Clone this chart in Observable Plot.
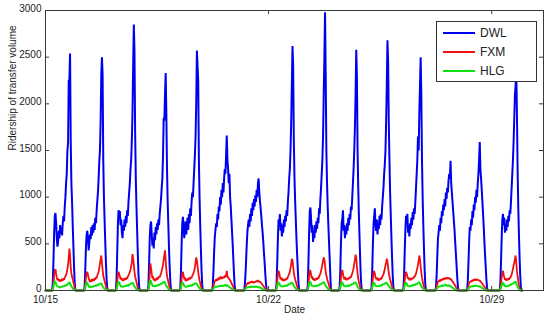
<!DOCTYPE html>
<html>
<head>
<meta charset="utf-8">
<script src="https://cdn.jsdelivr.net/npm/d3@7"></script>
<script src="https://cdn.jsdelivr.net/npm/@observablehq/plot@0.6"></script>
<style>
  body { margin: 0; background: #fff; }
  #wrap { position: relative; width: 550px; height: 322px; }
  #legend { position: absolute; left: 436px; top: 21px; width: 99px; height: 59px; border: 1px solid #333; background: #fff;
    font-family: "Liberation Sans Narrow", "Arial Narrow", "Liberation Sans", Arial, sans-serif; font-size: 12px; color: #222; }
  .row { position: absolute; left: 0; height: 16px; width: 100%; }
  .row span.l { position: absolute; left: 6px; top: 7px; width: 32px; height: 0; border-top: 2px solid; }
  .row span.t { position: absolute; left: 43px; top: 0; line-height: 16px; }
</style>
</head>
<body>
<div id="wrap">
  <div id="chart"></div>
  <div id="legend"></div>
</div>
<script>
// Series names / colours
const seriesNames = ["DWL", "FXM", "HLG"];
const seriesColors = ["#0000f0", "#f01010", "#10e010"];

// Day labels (Oct 2012), one per column of values below
const dayLabels = ["10/15","10/16","10/17","10/18","10/19","10/20","10/21","10/22","10/23","10/24","10/25","10/26","10/27","10/28","10/29"];

// Half-hour time slots within each day (hours)
const slotHours = [5,5.5,6,6.5,7,7.5,8,8.5,9,9.5,10,10.5,11,11.5,12,12.5,13,13.5,14,14.5,15,15.5,16,16.5,17,17.5,18,18.5,19,19.5,20,20.5,21,21.5,22,22.5,23];

// Axis ticks
const yTicks = [0, 500, 1000, 1500, 2000, 2500, 3000];
const xTickLabels = ["10/15", "10/22", "10/29"];

// DWL ridership, one row per day
const dwl = [
  [0,80,320,610,800,830,720,560,470,520,640,560,700,610,680,590,720,800,740,900,1000,1150,1250,1500,1580,2250,2260,2540,1600,1150,950,700,480,250,80,0,0],
  [0,50,250,480,600,640,560,430,520,600,550,680,590,700,620,720,650,780,720,850,960,1050,1200,1380,1500,1800,2300,2500,2320,1400,1000,750,520,300,120,20,0],
  [0,120,400,700,860,820,850,700,760,620,560,700,640,760,680,800,720,860,800,950,1050,1150,1300,1400,1600,1900,2400,2850,2570,1700,1200,900,650,400,180,40,0],
  [0,60,280,560,700,740,600,480,560,450,620,540,680,600,720,650,760,700,820,900,980,1100,1200,1450,1850,1820,2100,2330,1900,1300,950,700,450,250,90,10,0],
  [0,30,200,500,720,790,680,560,650,740,600,700,780,650,820,720,880,800,950,1050,1000,1150,1300,1450,1650,2000,2570,2400,2250,1400,1000,700,450,220,60,0,0],
  [0,0,60,220,420,580,650,720,680,820,760,900,850,1000,920,1080,1000,1150,1050,1200,1300,1250,1450,1660,1400,1300,1150,1250,1000,900,760,620,480,320,160,40,0],
  [0,0,40,150,300,480,620,700,760,680,820,740,880,800,940,860,980,900,1020,950,1080,1000,1150,1200,1050,960,880,800,700,620,520,400,300,180,80,10,0],
  [0,0,80,300,560,760,700,820,640,720,580,700,620,760,680,800,740,860,800,950,1050,1200,1300,1500,1800,2200,2620,2400,1600,1200,950,750,550,380,220,80,0],
  [0,60,300,620,850,890,760,620,700,520,640,560,700,620,740,660,780,720,880,820,980,1100,1250,1400,1650,2100,2500,2980,2300,1500,1150,900,700,520,340,150,0],
  [0,40,220,520,720,770,860,640,700,560,680,600,720,640,780,700,820,760,900,860,1000,1150,1300,1500,1750,2100,2580,2300,1500,1100,800,560,320,120,20,0,0],
  [0,30,200,480,700,800,880,700,640,760,600,720,660,800,700,820,760,900,1000,1100,1250,1350,1500,1800,2200,2680,2450,1800,1400,1050,800,560,340,150,30,0,0],
  [0,20,150,420,650,800,760,820,620,700,580,720,660,780,700,840,760,880,820,950,1100,1250,1400,1650,1500,1900,2200,2500,2100,1400,1000,700,450,220,60,0,0],
  [0,0,30,150,350,550,620,700,640,780,720,850,800,920,860,980,900,1050,980,1100,1050,1180,1250,1200,1390,1150,1050,950,850,750,650,520,400,280,150,50,0],
  [0,10,100,300,520,680,640,760,700,850,780,920,860,1000,940,1080,1000,1150,1250,1400,1590,1300,1200,1080,950,820,680,520,380,250,120,30,0,0,0,0,0],
  [0,0,0,80,300,560,760,820,700,780,620,700,640,760,680,800,740,860,820,950,1100,1250,1400,1600,1850,2100,2200,2350,1900,1300,900,600,350,150,30,0,0]
];

// FXM ridership, one row per day
const fxm = [
  [0,20,80,160,210,230,180,140,110,130,100,120,95,115,100,125,105,130,115,140,150,170,190,230,280,350,450,380,250,180,150,120,90,60,25,5,0],
  [0,15,60,140,190,200,170,130,110,90,115,95,120,100,125,105,130,115,145,130,160,180,200,240,290,330,375,300,220,160,130,100,75,45,20,0,0],
  [0,20,90,170,200,180,150,120,140,110,125,100,130,110,135,115,140,125,150,160,180,200,220,260,300,390,340,280,200,150,120,90,60,30,10,0,0],
  [0,10,70,180,290,240,180,130,150,110,125,100,130,110,140,120,135,150,140,165,180,210,240,280,330,380,430,320,220,160,120,90,60,30,10,0,0],
  [0,10,50,130,180,200,160,120,140,100,120,105,130,110,125,140,120,145,135,155,170,190,210,250,300,355,320,260,200,150,110,80,50,25,5,0,0],
  [0,0,20,50,80,100,110,120,100,130,110,140,120,135,150,125,140,130,150,135,160,140,170,210,150,140,130,120,110,95,80,65,50,35,15,5,0],
  [0,0,10,30,50,65,75,85,70,90,80,95,85,100,90,80,95,85,100,90,105,95,110,100,90,95,85,80,70,60,50,40,30,20,10,0,0],
  [0,0,30,100,170,210,190,150,120,140,110,130,100,120,105,125,110,135,120,145,160,180,200,240,280,340,320,260,190,150,120,95,70,45,20,5,0],
  [0,10,70,160,220,210,170,130,150,115,130,105,125,110,135,115,140,125,150,165,180,210,240,280,320,355,330,270,200,160,130,100,80,55,30,10,0],
  [0,10,50,140,200,220,180,140,120,145,115,130,110,135,120,140,125,150,140,165,185,210,240,290,330,385,350,260,180,130,90,60,35,15,5,0,0],
  [0,10,50,130,190,210,180,140,120,140,110,130,105,125,115,135,120,145,160,175,200,230,270,300,340,310,250,190,150,120,90,65,40,20,5,0,0],
  [0,5,40,110,170,200,180,150,125,140,110,130,110,135,120,140,130,150,145,165,180,210,240,280,320,375,330,260,190,140,100,70,40,20,5,0,0],
  [0,0,10,40,70,90,100,110,95,120,105,125,110,130,115,135,120,140,125,130,140,125,135,120,130,115,105,95,85,75,65,50,40,25,10,0,0],
  [0,0,20,50,80,95,90,105,95,115,100,120,105,125,110,115,120,110,115,105,110,95,90,80,70,60,50,40,30,20,10,0,0,0,0,0,0],
  [0,0,0,20,70,140,190,210,170,140,115,130,105,125,110,130,115,140,130,155,170,200,230,270,300,340,375,300,210,150,100,60,30,10,0,0,0]
];

// HLG ridership, one row per day
const hlg = [
  [0,10,40,80,100,90,70,50,40,45,35,40,30,40,35,45,40,50,45,55,50,60,55,65,75,80,90,70,55,45,35,25,15,10,5,0,0],
  [0,10,35,70,90,80,60,45,35,45,30,40,35,45,40,50,45,55,50,55,60,55,65,70,75,70,80,60,45,35,25,20,15,10,5,0,0],
  [0,15,45,85,95,85,65,50,40,50,35,45,40,50,45,55,45,60,50,55,65,60,70,75,80,85,75,60,45,35,25,15,10,5,0,0,0],
  [0,10,40,90,110,95,70,55,45,55,40,50,45,55,50,60,55,65,60,70,75,70,80,85,90,95,85,65,50,40,30,20,10,5,0,0,0],
  [0,5,30,70,85,80,65,50,40,45,35,45,40,50,45,55,50,55,50,60,65,60,70,75,80,75,70,55,45,35,25,15,10,5,0,0,0],
  [0,0,10,20,30,35,40,45,35,45,40,50,45,50,45,55,50,45,55,50,60,55,50,60,50,45,40,35,30,25,20,15,10,5,0,0,0],
  [0,0,5,15,25,30,35,30,40,35,40,35,45,40,35,45,40,35,40,45,40,35,40,35,30,35,30,25,20,15,10,10,5,0,0,0,0],
  [0,0,15,50,80,90,75,60,45,50,40,45,40,50,45,55,50,55,50,60,65,70,65,75,80,85,80,65,50,40,30,20,15,10,5,0,0],
  [0,5,30,75,95,90,70,55,45,50,40,50,45,55,45,55,50,60,55,65,70,65,75,80,85,90,80,65,50,40,30,25,15,10,5,0,0],
  [0,5,25,65,90,85,70,55,45,50,40,50,45,55,50,55,50,60,55,65,70,65,75,85,80,90,75,55,40,30,20,10,5,0,0,0,0],
  [0,5,25,60,85,80,65,50,45,50,40,50,45,55,50,55,50,60,65,70,65,75,80,85,80,70,60,50,40,30,20,15,10,5,0,0,0],
  [0,0,20,55,80,85,70,55,45,50,40,50,45,55,50,60,55,60,55,65,70,65,75,80,85,90,75,60,45,35,25,15,10,5,0,0,0],
  [0,0,5,15,25,35,40,45,40,50,45,55,50,55,50,60,55,60,55,50,55,50,55,50,45,40,35,30,25,20,15,10,5,0,0,0,0],
  [0,0,10,20,30,35,40,45,40,50,45,50,45,55,50,50,45,50,45,40,45,40,35,30,25,20,15,10,5,0,0,0,0,0,0,0,0],
  [0,0,0,10,30,55,80,85,70,55,45,50,40,50,45,55,50,60,55,65,70,75,70,80,85,90,95,75,55,40,25,15,5,0,0,0,0]
];

// ---- build table ----
function parseDay(lbl, hour) {
  const [m, d] = lbl.split("/").map(Number);
  return new Date(Date.UTC(2012, m - 1, d) + hour * 3600000);
}
function toRows(values, name) {
  const rows = [{date: parseDay(dayLabels[0], 0), value: 0, series: name}];
  values.forEach((day, di) => day.forEach((v, si) => rows.push({date: parseDay(dayLabels[di], slotHours[si]), value: v, series: name})));
  return rows;
}
const allSeries = [dwl, fxm, hlg].map((v, i) => toRows(v, seriesNames[i]));
const xTicks = xTickLabels.map(l => parseDay(l, 0));

const W = 550, H = 322, mL = 45, mR = 7, mT = 10, mB = 32;
const innerW = W - mL - mR, innerH = H - mT - mB;
const tickLen = 4;
const axisColor = "#3a3a3a";
const widths = [2, 1.8, 2];
const narrow = "'Liberation Sans Narrow', 'Arial Narrow', 'Liberation Sans', sans-serif";

const chart = Plot.plot({
  width: W, height: H,
  marginLeft: mL, marginRight: mR, marginTop: mT, marginBottom: mB,
  x: {type: "utc", domain: [parseDay("10/15", 0), parseDay("10/30", 15)]},
  y: {domain: [0, 3000]},
  style: {fontFamily: "'Liberation Sans', Arial, sans-serif", fontSize: "10px", color: "#222", background: "#fff"},
  marks: [
    ...allSeries.map((rows, i) => Plot.lineY(rows, {x: "date", y: "value", stroke: seriesColors[i], strokeWidth: widths[i], strokeLinejoin: "miter"})),
    Plot.frame({stroke: axisColor}),
    Plot.tickY(yTicks, {y: d => d, insetRight: innerW - tickLen, stroke: axisColor}),
    Plot.tickY(yTicks, {y: d => d, insetLeft: innerW - tickLen, stroke: axisColor}),
    Plot.tickX(xTicks, {x: d => d, insetTop: innerH - tickLen, stroke: axisColor}),
    Plot.tickX(xTicks, {x: d => d, insetBottom: innerH - tickLen, stroke: axisColor}),
    Plot.axisY({ticks: yTicks, tickSize: 0, tickPadding: 4, label: null, fontSize: 10, tickFormat: d => String(d), dy: -2}),
    Plot.axisX({ticks: xTicks, tickSize: 0, tickPadding: 5, label: null, tickFormat: d3.utcFormat("%m/%d"),
      fontFamily: narrow, fontSize: 10}),
    Plot.text(["Date"], {frameAnchor: "bottom", dy: 22, text: d => d, fontSize: 10, fontFamily: narrow}),
    Plot.text(["Ridership of transfer volume"], {frameAnchor: "left", dx: -33, rotate: -90, text: d => d, fontSize: 10})
  ]
});
document.getElementById("chart").appendChild(chart);

// legend
const leg = document.getElementById("legend");
seriesNames.forEach((n, i) => {
  const r = document.createElement("div");
  r.className = "row";
  r.style.top = (3 + i * 19) + "px";
  r.innerHTML = `<span class="l" style="border-color:${seriesColors[i]}"></span><span class="t">${n}</span>`;
  leg.appendChild(r);
});
</script>
</body>
</html>
